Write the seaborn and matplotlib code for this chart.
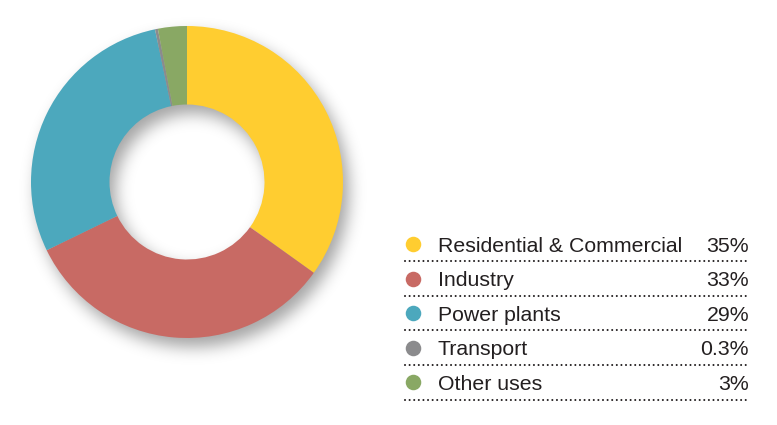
import numpy as np
import matplotlib
matplotlib.use("Agg")
import matplotlib.pyplot as plt
import seaborn as sns

# ---- data ----
categories = ["Residential & Commercial", "Industry", "Power plants", "Transport", "Other uses"]
shares = [35, 33, 29, 0.3, 3]
share_labels = ["35%", "33%", "29%", "0.3%", "3%"]
colors = ["#FFCD30", "#C86A64", "#4CA8BD", "#8B8B8D", "#89A864"]

sns.set_theme(style="white")
plt.rcParams["font.family"] = ["Liberation Sans", "DejaVu Sans"]

W, H = 777, 425
fig = plt.figure(figsize=(W / 100, H / 100), dpi=100)
fig.patch.set_facecolor("white")

# pixel geometry of the donut
cx, cy = 187.0, 182.0
R_out, R_in = 156.0, 77.5

# ---- overlay axes in pixel coordinates ----
ax0 = fig.add_axes([0, 0, 1, 1])
ax0.set_xlim(0, W)
ax0.set_ylim(H, 0)
ax0.axis("off")

# soft drop shadow of the ring (offset to bottom-right, blurred)
yy, xx = np.mgrid[0:H, 0:W] + 0.5
dx, dy = 6.0, 9.0
r = np.hypot(xx - (cx + dx), yy - (cy + dy))
mask = np.clip(r - R_in + 0.5, 0, 1) * np.clip(R_out - r + 0.5, 0, 1)
sigma = 8.0
k = np.arange(-int(3 * sigma), int(3 * sigma) + 1)
kern = np.exp(-0.5 * (k / sigma) ** 2)
kern /= kern.sum()
blur = np.apply_along_axis(lambda v: np.convolve(v, kern, mode="same"), 1, mask)
blur = np.apply_along_axis(lambda v: np.convolve(v, kern, mode="same"), 0, blur)
shadow = np.zeros((H, W, 4))
shadow[..., 3] = 0.36 * blur
ax0.imshow(shadow, extent=(0, W, H, 0), interpolation="bilinear", zorder=0)

# ---- donut ----
half = 160.0
axp = fig.add_axes([(cx - half) / W, (H - cy - half) / H, 2 * half / W, 2 * half / H])
axp.patch.set_alpha(0)
axp.pie(shares, colors=colors, startangle=90, counterclock=False,
        radius=1.0, wedgeprops=dict(width=(R_out - R_in) / R_out, linewidth=0))
L = half / R_out
axp.set_xlim(-L, L)
axp.set_ylim(-L, L)
axp.set_aspect("equal", adjustable="box")
axp.axis("off")

# ---- custom legend ----
text_color = "#231F20"
row_step = 34.6
for i, (cat, lab, col) in enumerate(zip(categories, share_labels, colors)):
    yc = 244 + i * row_step
    ax0.scatter([412.5], [yc], s=125, color=col, linewidths=0, zorder=3)
    ax0.text(438, yc + 7.6, cat, fontsize=15.3, color=text_color,
             ha="left", va="baseline", zorder=3)
    ax0.text(749, yc + 7.6, lab, fontsize=15.3, color=text_color,
             ha="right", va="baseline", zorder=3)
    yl = 261 + i * 34.7
    ax0.plot([405, 750], [yl, yl], color="#231F20", linewidth=1.5,
             linestyle=(0, (0.01, 2.2)), dash_capstyle="round", zorder=3)

fig.savefig("out.png", dpi=100, facecolor="white")
